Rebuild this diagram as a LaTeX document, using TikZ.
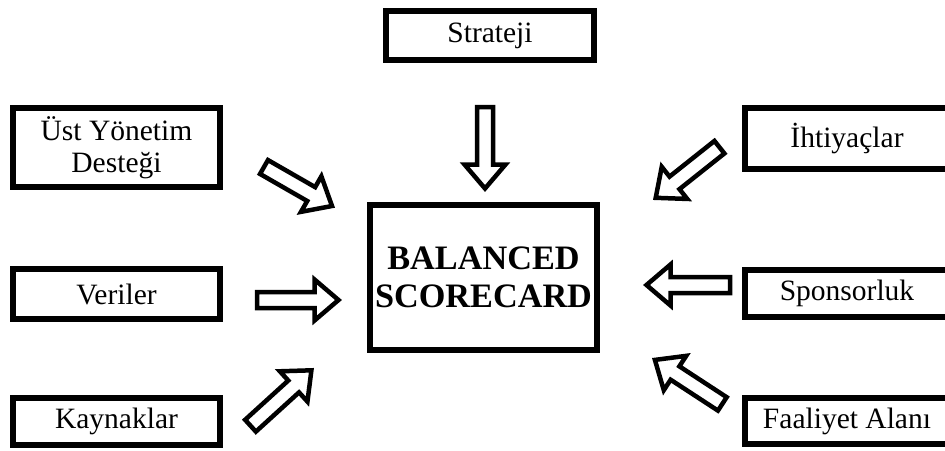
\documentclass[tikz,border=0pt]{standalone}
\usepackage{fontspec}
\setmainfont{Liberation Serif}
\usetikzlibrary{calc}

\tikzset{
    box/.style={draw, line width=0.13cm, inner sep=0pt, align=center,
        font=\fontsize{16.8}{18.2}\selectfont},
    bigbox/.style={box, font=\fontsize{19.5}{21.6}\selectfont\bfseries},
    harrow/.style={draw, line width=0.09cm, miter limit=10, fill=white}
}
\def\shaftw{0.16cm}
\def\headw{0.41cm}
\def\headl{0.48cm}
% hollow block arrow from #1 (tail) to #2 (tip)
\newcommand{\hollowarrow}[2]{%
    \path[harrow] ($(#1)!\shaftw!90:(#2)$)
        -- ($($(#2)!\headl!(#1)$)!\shaftw!90:(#2)$)
        -- ($($(#2)!\headl!(#1)$)!\headw!90:(#2)$)
        -- (#2)
        -- ($($(#2)!\headl!(#1)$)!\headw!-90:(#2)$)
        -- ($($(#2)!\headl!(#1)$)!\shaftw!-90:(#2)$)
        -- ($(#1)!\shaftw!-90:(#2)$) -- cycle;}

\begin{document}
\begin{tikzpicture}[x=0.02cm, y=-0.02cm]
        \useasboundingbox (0,0) rectangle (945,450);
        \clip (0,0) rectangle (945,450);

        \node[bigbox, minimum width=4.54cm, minimum height=2.9cm] (BSC) at (483.5,277.5) {BALANCED\\SCORECARD};
        \node[box, minimum width=4.16cm, minimum height=0.98cm] (S) at (490,35.5)  {Strateji};
        \node[box, minimum width=4.14cm, minimum height=1.58cm] (U) at (116.5,147.5) {Üst Yönetim\\Desteği};
        \node[box, minimum width=4.14cm, minimum height=1.0cm]  (V) at (116.5,294) {Veriler};
        \node[box, minimum width=4.14cm, minimum height=0.94cm] (K) at (116.5,421.5) {Kaynaklar};
        \node[box, minimum width=4.08cm, minimum height=1.22cm] (I) at (847,138.5) {İhtiyaçlar};
        \node[box, minimum width=4.08cm, minimum height=0.94cm] (P) at (847,293.5) {Sponsorluk};
        \node[box, minimum width=4.08cm, minimum height=0.92cm] (F) at (847,421) {Faaliyet Alanı};

        % arrow ends
        \coordinate (s1) at (485,107);     \coordinate (s2) at (485,188.5);
        \coordinate (u1) at (264,167);     \coordinate (u2) at (332,206);
        \coordinate (v1) at (257,300);     \coordinate (v2) at (338.5,300);
        \coordinate (k1) at (250.5,425.7); \coordinate (k2) at (311.4,370.3);
        \coordinate (i1) at (719.4,147.2); \coordinate (i2) at (655.7,197.8);
        \coordinate (p1) at (730,285);     \coordinate (p2) at (646.5,285);
        \coordinate (f1) at (722.3,403.9); \coordinate (f2) at (654.9,359.9);

        \hollowarrow{s1}{s2}
        \hollowarrow{u1}{u2}
        \hollowarrow{v1}{v2}
        \hollowarrow{k1}{k2}
        \hollowarrow{i1}{i2}
        \hollowarrow{p1}{p2}
        \hollowarrow{f1}{f2}
    \end{tikzpicture}
\end{document}
